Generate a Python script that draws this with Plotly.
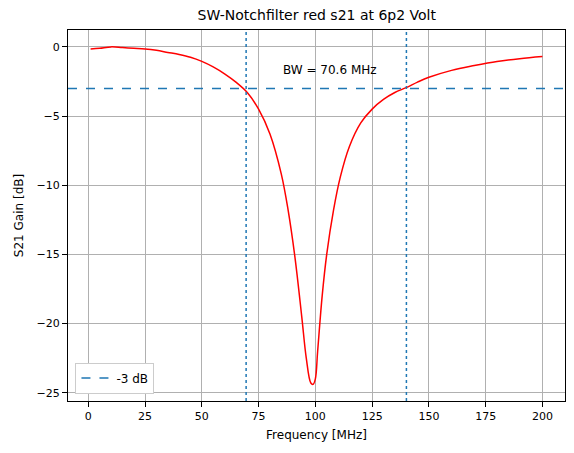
import plotly.graph_objects as go

freq = [1, 5, 10, 15, 20, 25, 30, 35, 40, 45, 50, 55, 60, 65, 70, 75, 80, 85, 88, 91, 94, 96, 98, 99, 100, 101, 103, 105, 108, 111, 115, 120, 125, 130, 135, 140, 145, 150, 160, 170, 180, 190, 200]
gain = [-0.15, -0.1, 0.0, -0.05, -0.1, -0.15, -0.25, -0.4, -0.55, -0.75, -1.05, -1.45, -1.95, -2.55, -3.3, -4.5, -6.3, -9.2, -11.8, -15.2, -19.5, -22.5, -24.3, -24.4, -24.0, -22.0, -18.0, -15.0, -11.8, -9.4, -7.2, -5.5, -4.5, -3.8, -3.3, -2.95, -2.55, -2.2, -1.7, -1.35, -1.05, -0.85, -0.7]
f_low, f_high = 69.5, 140.1
bw_label = "BW = 70.6 MHz"

fig = go.Figure()
fig.add_trace(go.Scatter(x=freq, y=gain, mode='lines', line=dict(color='red', width=1.5, shape='spline'), showlegend=False))
fig.add_trace(go.Scatter(x=[-8.95, 209.95], y=[-3, -3], mode='lines', name='-3 dB',
                         line=dict(color='#1f77b4', dash='dash', width=1.5)))
for fx in [f_low, f_high]:
    fig.add_trace(go.Scatter(x=[fx, fx], y=[-25.6, 1.22], mode='lines', showlegend=False,
                             line=dict(color='#1f77b4', dash='dot', width=1.5)))
fig.add_annotation(x=85, y=-1.7, text=bw_label, showarrow=False, xanchor='left',
                   font=dict(size=12, color='black'))

ax = dict(showgrid=True, gridcolor='#b0b0b0', showline=True, mirror=True, linecolor='black',
          ticks='outside', tickcolor='black', zeroline=False, automargin=False,
          tickfont=dict(size=11, color='black'))
fig.update_xaxes(ax, range=[-8.95, 209.95], tickvals=list(range(0, 201, 25)),
                 title=dict(text='Frequency [MHz]', font=dict(size=12, color='black'), standoff=8))
fig.update_yaxes(ax, range=[-25.6, 1.22], tickvals=[0, -5, -10, -15, -20, -25],
                 ticktext=['0', '−5', '−10', '−15', '−20', '−25'],
                 title=dict(text='S21 Gain [dB]', font=dict(size=12, color='black'), standoff=10))
fig.update_layout(width=574, height=453, template='none',
                  font=dict(family='DejaVu Sans'),
                  margin=dict(l=60, r=17, t=22, b=60, autoexpand=False),
                  plot_bgcolor='white', paper_bgcolor='white',
                  title=dict(text='SW-Notchfilter red s21 at 6p2 Volt', x=0.538, xanchor='center',
                             y=0.985, yanchor='middle', automargin=False,
                             font=dict(size=14, color='black')),
                  legend=dict(x=0.015, y=0.02, xanchor='left', yanchor='bottom',
                              bordercolor='#cccccc', borderwidth=1, bgcolor='white',
                              font=dict(size=12, color='black')))
fig.write_html("out.html")
